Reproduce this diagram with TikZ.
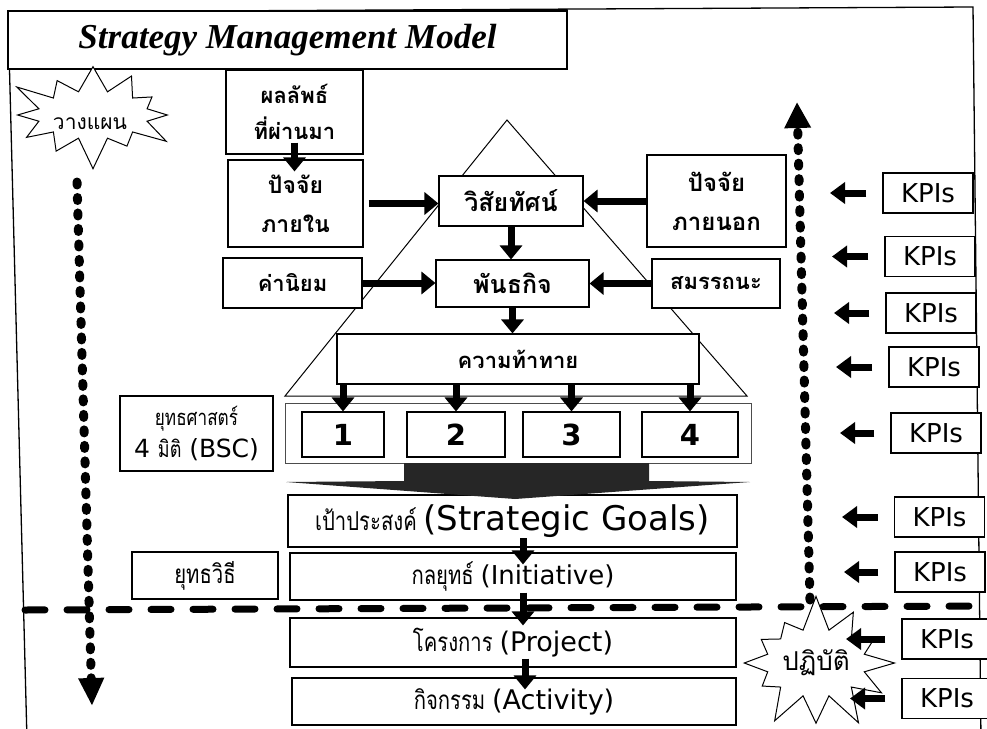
\documentclass[tikz,border=0pt]{standalone}
\usepackage{fontspec}
\usetikzlibrary{arrows.meta,shapes.symbols}
\newfontfamily\thai[Script=Thai]{Loma}
\newfontfamily\thaic[Script=Thai,FakeStretch=0.78]{Loma}
\newfontfamily\lat{DejaVu Sans}
\newfontfamily\titlefont{Liberation Serif}
\newcommand{\fs}[1]{\fontsize{#1}{#1}\selectfont}
\tikzset{
  bx/.style={draw, line width=1.1pt, fill=white, inner sep=0pt, align=center, font=\thai},
  arr/.style={line width=7pt, -{Triangle[length=14pt,width=22pt]}},
  karr/.style={line width=7pt, -{Triangle[length=15pt,width=21pt]}, shorten <=16pt},
  dotline/.style={line width=9pt, line cap=round, dash pattern=on 3pt off 12.5pt},
  burst/.style={starburst, draw, fill=white, line width=1pt, starburst points=12, inner sep=0pt, font=\thai},
  kpi/.style={bx, minimum width=90pt, minimum height=40pt, font=\lat\fs{26}},
  num/.style={bx, minimum height=45pt, font=\lat\bfseries\fs{29}}
}
\begin{document}
\begin{tikzpicture}[x=1pt,y=-1pt]
\useasboundingbox (0,0) rectangle (987,728);
% frame
\draw[line width=1.3pt] (27,740) -- (8,12) -- (973,7) -- (981,740);
% title
\node[bx, minimum width=559pt, minimum height=58pt, font=\titlefont\bfseries\itshape\fs{35}] (title) at (287.5,40) {Strategy Management Model};
% pyramid
\coordinate (apex) at (507,120);
\coordinate (bl) at (285,396);
\coordinate (br) at (747,396);
\draw[line width=1pt] (bl) -- (apex) -- (br) -- cycle;
% dashed separator
\coordinate (dl) at (25,610);
\coordinate (dr) at (990,606);
\draw[line width=7pt, line cap=round, dash pattern=on 20pt off 22pt] (dl) -- (dr);
% dotted arrows
\coordinate (ltop) at (77,182);
\coordinate (lbot) at (92,706);
\draw[dotline, -{Triangle[length=28pt,width=24pt]}] (ltop) -- (lbot);
\coordinate (rbot) at (810,600);
\coordinate (rtop) at (797,102);
\draw[dotline, -{Triangle[length=26pt,width=25pt]}] (rbot) -- (rtop);
% boxes
\node[bx, minimum width=137pt, minimum height=84pt, font=\thai\bfseries\fs{22}] (res) at (294.5,112) {ผลลัพธ์\\[12pt]ที่ผ่านมา};
\node[bx, minimum width=135pt, minimum height=87pt, font=\thai\bfseries\fs{23}] (inf) at (295.5,203.5) {ปัจจัย\\[16pt]ภายใน};
\node[bx, minimum width=144pt, minimum height=50pt, font=\thai\bfseries\fs{25}] (vis) at (511,201) {วิสัยทัศน์};
\node[bx, minimum width=139pt, minimum height=92pt, font=\thai\bfseries\fs{24}] (exf) at (716.5,201) {ปัจจัย\\[15pt]ภายนอก};
\node[bx, minimum width=139pt, minimum height=50pt, font=\thai\bfseries\fs{22}] (val) at (292.5,283) {ค่านิยม};
\node[bx, minimum width=153pt, minimum height=47pt, font=\thai\bfseries\fs{25}] (mis) at (512.5,283.5) {พันธกิจ};
\node[bx, minimum width=128pt, minimum height=49pt, font=\thai\bfseries\fs{22}] (cmp) at (716,283.5) {สมรรถนะ};
\node[bx, minimum width=362pt, minimum height=50pt, font=\thai\bfseries\fs{22}] (chl) at (518,359) {ความท้าทาย};
\node[bx, line width=0.7pt, draw=black!70, minimum width=466pt, minimum height=60pt] (cont) at (518,433) {};
\node[num, minimum width=82pt] (b1) at (343,434.5) {1};
\node[num, minimum width=98pt] (b2) at (456,434.5) {2};
\node[num, minimum width=97pt] (b3) at (571.5,434.5) {3};
\node[num, minimum width=96pt] (b4) at (690,434.5) {4};
\node[bx, minimum width=153pt, minimum height=75pt] (bsc) at (196.5,433.5) {\thaic\fs{22}ยุทธศาสตร์\\[6pt]\lat\fs{25}4 {\thaic\fs{23}มิติ} (BSC)};
\node[bx, minimum width=449pt, minimum height=52pt] (goals) at (512.5,521) {\thaic\fs{26}เป้าประสงค์ \lat\fs{34}(Strategic Goals)};
\node[bx, minimum width=446pt, minimum height=47pt] (ini) at (513,576.5) {\thaic\fs{26}กลยุทธ์ \lat\fs{26}(Initiative)};
\node[bx, minimum width=146pt, minimum height=47pt, font=\thaic\fs{26}] (tac) at (205,575.5) {ยุทธวิธี};
\node[bx, minimum width=446pt, minimum height=49pt] (prj) at (513,642.5) {\thaic\fs{26}โครงการ \lat\fs{27}(Project)};
\node[bx, minimum width=444pt, minimum height=47pt] (act) at (514,701.5) {\thaic\fs{26}กิจกรรม \lat\fs{27}(Activity)};
% chevron arrow
\fill[black!85] (404,463) -- (649,463) -- (649,481) -- (750,482) -- (515,499) -- (286,482) -- (404,481) -- cycle;
% arrows
\draw[arr, shorten <=-12pt, shorten >=-12pt] (res.south) -- (res.south |- inf.north);
\draw[arr, shorten <=5pt] (inf.east) -- (inf.east -| vis.west);
\draw[arr] (exf.west) -- (exf.west -| vis.east);
\draw[arr] (vis.south) -- (vis.south |- mis.north);
\draw[arr] (val.east) -- (val.east -| mis.west);
\draw[arr] (cmp.west) -- (cmp.west -| mis.east);
\draw[arr] (mis.south) -- (mis.south |- chl.north);
\foreach \b in {b1,b2,b3,b4}{\draw[arr] (chl.south -| \b.north) -- (\b.north);}
\coordinate (g1) at (523,538);
\draw[arr, shorten >=-12pt] (g1) -- (g1 |- ini.north);
\draw[arr, shorten <=-8pt, shorten >=-8pt] (ini.south -| g1) -- (prj.north -| g1);
\draw[arr, shorten <=-9pt, shorten >=-12pt] (prj.south -| 525,0) -- (act.north -| 525,0);
% bursts
\node[burst, minimum width=180pt, minimum height=116pt, starburst point height=34pt] (plan) at (93,115) {};
\node[font=\thai\fs{21}] (plantext) at (90,124) {วางแผน};
\node[burst, minimum width=172pt, minimum height=140pt, starburst point height=36pt, random starburst=7, font=\thai\fs{26}] (act2) at (816,663) {ปฏิบัติ};
% KPIs
\node[kpi] (k1) at (928,193) {KPIs};
\node[kpi] (k2) at (930,256.5) {KPIs};
\node[kpi] (k3) at (931,313) {KPIs};
\node[kpi] (k4) at (934,367) {KPIs};
\node[kpi] (k5) at (936,433) {KPIs};
\node[kpi] (k6) at (939.5,517) {KPIs};
\node[kpi] (k7) at (940,572) {KPIs};
\node[kpi] (k8) at (947,639) {KPIs};
\node[kpi] (k9) at (947,698.5) {KPIs};
\coordinate (t1) at (830,193);
\coordinate (t2) at (832,256.5);
\coordinate (t3) at (834,313);
\coordinate (t4) at (836,367);
\coordinate (t5) at (840,433);
\coordinate (t6) at (842,517);
\coordinate (t7) at (844,572);
\coordinate (t8) at (846,639);
\coordinate (t9) at (850,698.5);
\foreach \i in {1,...,9}{\draw[karr] (k\i) -- (t\i);}
\end{tikzpicture}
\end{document}
